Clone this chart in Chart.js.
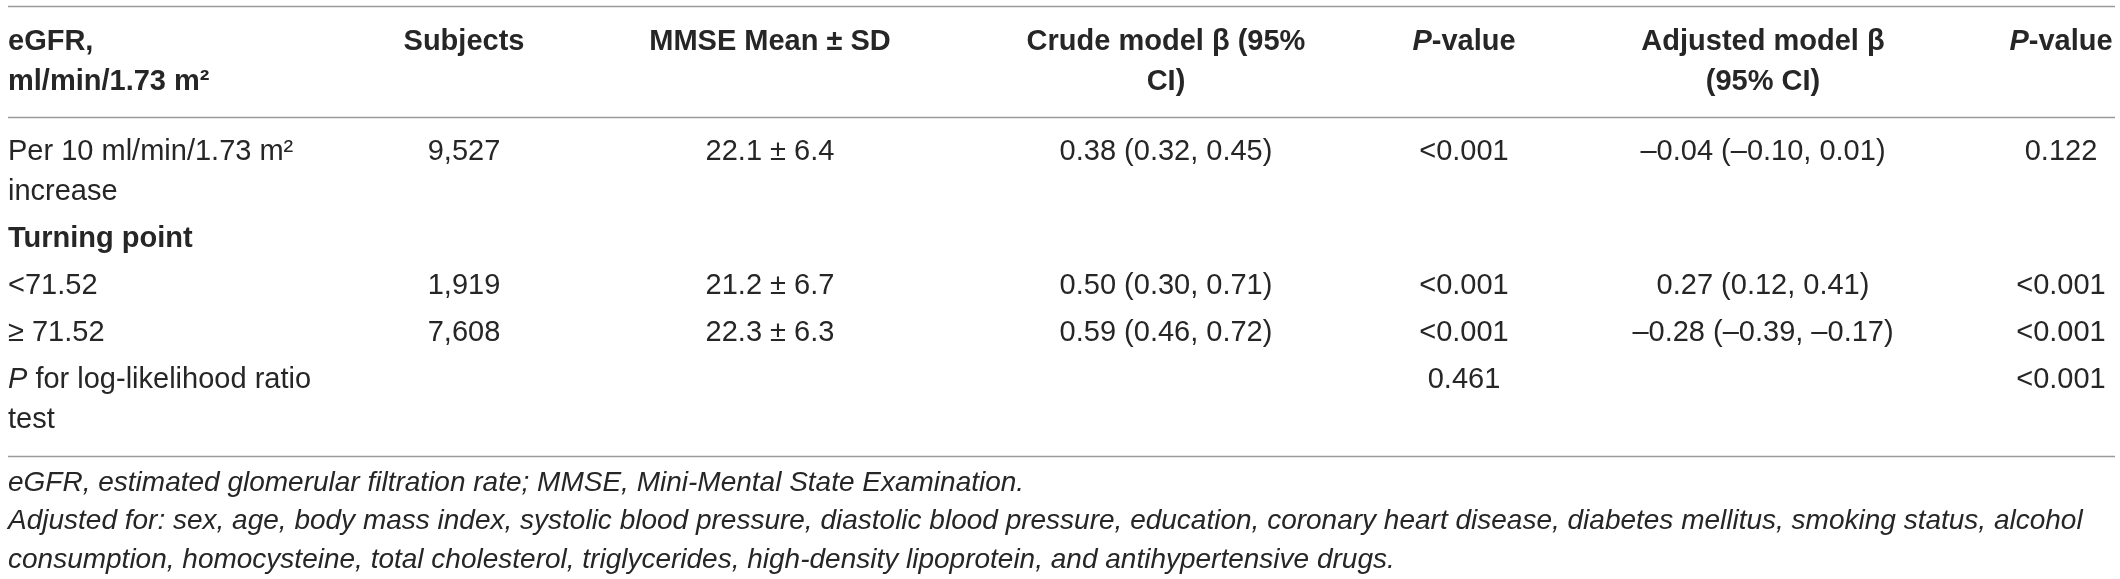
<!DOCTYPE html>
<html>
<head>
<meta charset="utf-8">
<title>eGFR and MMSE</title>
<script src="https://cdn.jsdelivr.net/npm/chart.js@4.4.1/dist/chart.umd.min.js"></script>
<style>
  html, body { margin: 0; padding: 0; background: #fff; }
  canvas { display: block; }
</style>
</head>
<body>
<canvas id="tableChart" width="2120" height="579"></canvas>
<script>
// table content ('_' toggles italic)
const headers = ['eGFR,\nml/min/1.73 m²', 'Subjects', 'MMSE Mean ± SD', 'Crude model β (95%\nCI)', '_P_-value', 'Adjusted model β\n(95% CI)', '_P_-value'];
const rowLabels = ['Per 10 ml/min/1.73 m²\nincrease', 'Turning point', '<71.52', '≥ 71.52', '_P_ for log-likelihood ratio\ntest'];
const subjects = ['9,527', '', '1,919', '7,608', ''];
const mmse = ['22.1 ± 6.4', '', '21.2 ± 6.7', '22.3 ± 6.3', ''];
const crudeBeta = ['0.38 (0.32, 0.45)', '', '0.50 (0.30, 0.71)', '0.59 (0.46, 0.72)', ''];
const crudeP = ['<0.001', '', '<0.001', '<0.001', '0.461'];
const adjBeta = ['–0.04 (–0.10, 0.01)', '', '0.27 (0.12, 0.41)', '–0.28 (–0.39, –0.17)', ''];
const adjP = ['0.122', '', '<0.001', '<0.001', '<0.001'];
const footnotes = [
  'eGFR, estimated glomerular filtration rate; MMSE, Mini-Mental State Examination.',
  'Adjusted for: sex, age, body mass index, systolic blood pressure, diastolic blood pressure, education, coronary heart disease, diabetes mellitus, smoking status, alcohol consumption, homocysteine, total cholesterol, triglycerides, high-density lipoprotein, and antihypertensive drugs.'
];

const columns = [rowLabels, subjects, mmse, crudeBeta, crudeP, adjBeta, adjP];
const sectionRow = 1; // "Turning point" is set in bold

// layout
const W = 2120, H = 579;
const colX = [8, 464, 770, 1166, 1464, 1763, 2061];
const ruleLeft = 8, ruleRight = 2115;
const lineH = 40;
const FONT = '"Liberation Sans", Arial, sans-serif';
const textColor = '#262626';
const ruleColor = '#9a9a9a';

const topRule = 6;
const headerFirst = topRule + 36;
const headerLines = Math.max(...headers.map(h => h.split('\n').length));
const headerRule = headerFirst + (headerLines - 1) * lineH + 35;

const rowY = [];
let yCursor = headerRule + 35;
rowLabels.forEach(lbl => {
  rowY.push(yCursor);
  yCursor += (lbl.split('\n').length - 1) * lineH + 47;
});
const lastLines = rowLabels[rowLabels.length - 1].split('\n').length;
const bottomRule = rowY[rowY.length - 1] + (lastLines - 1) * lineH + 36;
const footFirst = bottomRule + 27;
const footLineH = 38.5;

function drawRich(ctx, text, x, y, align, baseFont) {
  const runs = text.split('_')
    .map((t, i) => ({ t: t, font: (i % 2 ? 'italic ' : '') + baseFont }))
    .filter(r => r.t.length);
  let total = 0;
  runs.forEach(r => { ctx.font = r.font; r.w = ctx.measureText(r.t).width; total += r.w; });
  let cx = align === 'center' ? x - total / 2 : x;
  ctx.textAlign = 'left';
  runs.forEach(r => { ctx.font = r.font; ctx.fillText(r.t, cx, y); cx += r.w; });
}

function wrapText(ctx, text, maxW) {
  const words = text.split(' ');
  const lines = [];
  let cur = '';
  words.forEach(w => {
    const test = cur ? cur + ' ' + w : w;
    if (ctx.measureText(test).width > maxW && cur) {
      lines.push(cur);
      cur = w;
    } else {
      cur = test;
    }
  });
  if (cur) lines.push(cur);
  return lines;
}

const tablePlugin = {
  id: 'tablePlugin',
  beforeDatasetsDraw(chart) {
    const ctx = chart.ctx;
    const xs = chart.scales.x, ys = chart.scales.y;
    ctx.save();
    ctx.strokeStyle = ruleColor;
    ctx.lineWidth = 1.5;
    [topRule, headerRule, bottomRule].forEach(v => {
      const py = Math.round(ys.getPixelForValue(v)) + 0.5;
      ctx.beginPath();
      ctx.moveTo(xs.getPixelForValue(ruleLeft), py);
      ctx.lineTo(xs.getPixelForValue(ruleRight), py);
      ctx.stroke();
    });
    ctx.restore();
  },
  afterDatasetsDraw(chart) {
    const ctx = chart.ctx;
    const xs = chart.scales.x, ys = chart.scales.y;
    ctx.save();
    ctx.fillStyle = textColor;
    ctx.textBaseline = 'middle';

    // header row
    headers.forEach((h, c) => {
      h.split('\n').forEach((line, i) => {
        drawRich(ctx, line, xs.getPixelForValue(colX[c]), ys.getPixelForValue(headerFirst + i * lineH),
          c === 0 ? 'left' : 'center', 'bold 29px ' + FONT);
      });
    });

    // body cells, placed at each point of the datasets
    chart.data.datasets.forEach((ds, c) => {
      const meta = chart.getDatasetMeta(c);
      meta.data.forEach((pt, r) => {
        const text = columns[c][r];
        if (!text) return;
        const weight = r === sectionRow ? 'bold ' : '';
        text.split('\n').forEach((line, i) => {
          drawRich(ctx, line, pt.x, pt.y + i * lineH, c === 0 ? 'left' : 'center', weight + '29px ' + FONT);
        });
      });
    });

    // footnotes
    ctx.font = 'italic 28px ' + FONT;
    const footLines = [];
    footnotes.forEach(f => footLines.push(...wrapText(ctx, f, ruleRight - ruleLeft)));
    footLines.forEach((line, i) => {
      ctx.fillText(line, xs.getPixelForValue(ruleLeft), ys.getPixelForValue(footFirst + i * footLineH));
    });
    ctx.restore();
  }
};

const datasets = columns.map((col, c) => ({
  label: headers[c],
  data: col.map((_, r) => ({ x: colX[c], y: rowY[r] })),
  pointRadius: 0,
  showLine: false
}));

new Chart(document.getElementById('tableChart').getContext('2d'), {
  type: 'scatter',
  data: { datasets: datasets },
  options: {
    responsive: false,
    animation: false,
    devicePixelRatio: 1,
    layout: { padding: 0 },
    plugins: { legend: { display: false }, tooltip: { enabled: false } },
    scales: {
      x: { type: 'linear', min: 0, max: W, display: false },
      y: { type: 'linear', min: 0, max: H, reverse: true, display: false }
    }
  },
  plugins: [tablePlugin]
});
</script>
</body>
</html>
